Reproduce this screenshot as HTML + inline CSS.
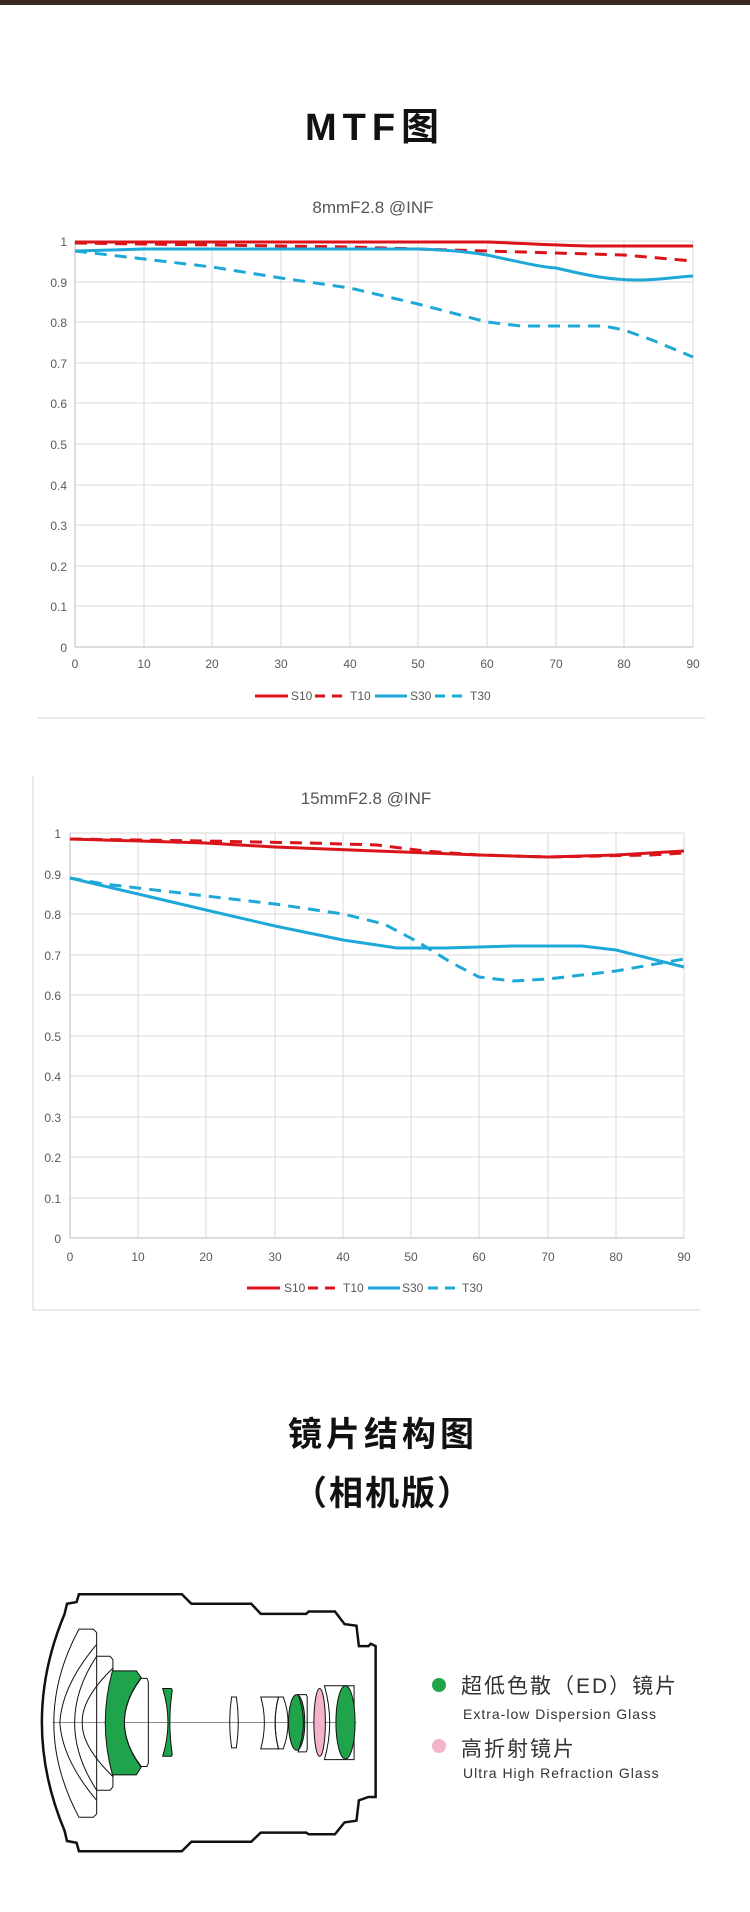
<!DOCTYPE html>
<html><head><meta charset="utf-8"><style>
html,body{margin:0;padding:0;background:#fff;width:750px;height:1912px;overflow:hidden}
svg{display:block}
</style></head><body>
<svg width="750" height="1912" viewBox="0 0 750 1912" xmlns="http://www.w3.org/2000/svg" font-family="Liberation Sans, Noto Sans CJK SC, sans-serif">
<rect x="0" y="0" width="750" height="5" fill="#3a2a22"/>
<text x="375" y="140" text-anchor="middle" font-size="38" font-weight="bold" letter-spacing="6" fill="#111">MTF图</text>

<!-- Chart 1 -->
<text x="373" y="213" text-anchor="middle" font-size="17" fill="#555">8mmF2.8 @INF</text>
<g stroke="#d9d9d9" stroke-width="1">
<line x1="75" x2="693" y1="241" y2="241"/><line x1="75" x2="693" y1="282" y2="282"/><line x1="75" x2="693" y1="322" y2="322"/><line x1="75" x2="693" y1="363" y2="363"/><line x1="75" x2="693" y1="403" y2="403"/><line x1="75" x2="693" y1="444" y2="444"/><line x1="75" x2="693" y1="485" y2="485"/><line x1="75" x2="693" y1="525" y2="525"/><line x1="75" x2="693" y1="566" y2="566"/><line x1="75" x2="693" y1="606" y2="606"/>
<line x1="144" x2="144" y1="241" y2="647"/><line x1="212" x2="212" y1="241" y2="647"/><line x1="281" x2="281" y1="241" y2="647"/><line x1="350" x2="350" y1="241" y2="647"/><line x1="418" x2="418" y1="241" y2="647"/><line x1="487" x2="487" y1="241" y2="647"/><line x1="556" x2="556" y1="241" y2="647"/><line x1="624" x2="624" y1="241" y2="647"/><line x1="693" x2="693" y1="241" y2="647"/>
</g>
<line x1="75" x2="693" y1="647" y2="647" stroke="#bbb"/><line x1="75" x2="75" y1="241" y2="647" stroke="#bbb"/>
<g font-size="12" fill="#595959" text-anchor="end">
<text x="67" y="246">1</text><text x="67" y="287">0.9</text><text x="67" y="327">0.8</text><text x="67" y="368">0.7</text><text x="67" y="408">0.6</text><text x="67" y="449">0.5</text><text x="67" y="490">0.4</text><text x="67" y="530">0.3</text><text x="67" y="571">0.2</text><text x="67" y="611">0.1</text><text x="67" y="652">0</text>
</g>
<g font-size="12" fill="#595959" text-anchor="middle">
<text x="75" y="668">0</text><text x="144" y="668">10</text><text x="212" y="668">20</text><text x="281" y="668">30</text><text x="350" y="668">40</text><text x="418" y="668">50</text><text x="487" y="668">60</text><text x="556" y="668">70</text><text x="624" y="668">80</text><text x="693" y="668">90</text>
</g>
<g fill="none" stroke-width="3" stroke-linejoin="round" stroke-linecap="butt">
<path d="M75,242 L487,242 C520,243 540,245 590,246 L693,246" stroke="#d9141b"/>
<path d="M75,243 L350,247 L487,251 L556,253 L624,255 L693,261" stroke="#d9141b" stroke-dasharray="12,8"/>
<path d="M75,251 L144,249 L418,249 C450,250 470,252 487,255 C520,262 540,267 556,268 C590,276 610,280 638,280 C660,280 675,277 693,276" stroke="#1ea8d8"/>
<path d="M75,251 L144,259 L212,267 L281,278 L350,288 L418,304 L487,322 L521,326 L604,326 L624,330 L652,340 L693,357" stroke="#1ea8d8" stroke-dasharray="12,8"/>
</g>
<g font-size="12" fill="#595959">
<line x1="255" x2="288" y1="696" y2="696" stroke="#d9141b" stroke-width="3"/><text x="291" y="700">S10</text>
<line x1="315" x2="347" y1="696" y2="696" stroke="#d9141b" stroke-width="3" stroke-dasharray="10,7"/><text x="350" y="700">T10</text>
<line x1="375" x2="407" y1="696" y2="696" stroke="#1ea8d8" stroke-width="3"/><text x="410" y="700">S30</text>
<line x1="435" x2="467" y1="696" y2="696" stroke="#1ea8d8" stroke-width="3" stroke-dasharray="10,7"/><text x="470" y="700">T30</text>
</g>
<line x1="38" x2="705" y1="718" y2="718" stroke="#e3e3e3" stroke-width="1.5"/>

<!-- Chart 2 -->
<line x1="33" x2="33" y1="776" y2="1310" stroke="#e3e3e3" stroke-width="1.5"/>
<line x1="33" x2="700" y1="1310" y2="1310" stroke="#e3e3e3" stroke-width="1.5"/>
<text x="366" y="804" text-anchor="middle" font-size="17" fill="#555">15mmF2.8 @INF</text>
<g stroke="#d9d9d9" stroke-width="1">
<line x1="70" x2="684" y1="833" y2="833"/><line x1="70" x2="684" y1="874" y2="874"/><line x1="70" x2="684" y1="914" y2="914"/><line x1="70" x2="684" y1="955" y2="955"/><line x1="70" x2="684" y1="995" y2="995"/><line x1="70" x2="684" y1="1036" y2="1036"/><line x1="70" x2="684" y1="1076" y2="1076"/><line x1="70" x2="684" y1="1117" y2="1117"/><line x1="70" x2="684" y1="1157" y2="1157"/><line x1="70" x2="684" y1="1198" y2="1198"/>
<line x1="138" x2="138" y1="833" y2="1238"/><line x1="206" x2="206" y1="833" y2="1238"/><line x1="275" x2="275" y1="833" y2="1238"/><line x1="343" x2="343" y1="833" y2="1238"/><line x1="411" x2="411" y1="833" y2="1238"/><line x1="479" x2="479" y1="833" y2="1238"/><line x1="548" x2="548" y1="833" y2="1238"/><line x1="616" x2="616" y1="833" y2="1238"/><line x1="684" x2="684" y1="833" y2="1238"/>
</g>
<line x1="70" x2="684" y1="1238" y2="1238" stroke="#bbb"/><line x1="70" x2="70" y1="833" y2="1238" stroke="#bbb"/>
<g font-size="12" fill="#595959" text-anchor="end">
<text x="61" y="838">1</text><text x="61" y="879">0.9</text><text x="61" y="919">0.8</text><text x="61" y="960">0.7</text><text x="61" y="1000">0.6</text><text x="61" y="1041">0.5</text><text x="61" y="1081">0.4</text><text x="61" y="1122">0.3</text><text x="61" y="1162">0.2</text><text x="61" y="1203">0.1</text><text x="61" y="1243">0</text>
</g>
<g font-size="12" fill="#595959" text-anchor="middle">
<text x="70" y="1261">0</text><text x="138" y="1261">10</text><text x="206" y="1261">20</text><text x="275" y="1261">30</text><text x="343" y="1261">40</text><text x="411" y="1261">50</text><text x="479" y="1261">60</text><text x="548" y="1261">70</text><text x="616" y="1261">80</text><text x="684" y="1261">90</text>
</g>
<g fill="none" stroke-width="3" stroke-linejoin="round">
<path d="M70,839 L206,843 L275,847 L377,851 L479,855 L548,857 L616,855 L684,851" stroke="#d9141b"/>
<path d="M70,839 L206,841 L309,843 L377,845 L425,851 L479,855 L548,857 L650,855 L684,853" stroke="#d9141b" stroke-dasharray="12,8"/>
<path d="M70,878 L138,894 L206,910 L275,926 L343,940 L397,948 L445,948 L513,946 L582,946 L616,950 L684,967" stroke="#1ea8d8"/>
<path d="M70,878 L104,884 L138,888 L206,896 L275,904 L343,914 L384,924 L418,942 L452,963 L479,977 L513,981 L548,979 L616,971 L684,959" stroke="#1ea8d8" stroke-dasharray="12,8"/>
</g>
<g font-size="12" fill="#595959">
<line x1="247" x2="280" y1="1288" y2="1288" stroke="#d9141b" stroke-width="3"/><text x="284" y="1292">S10</text>
<line x1="308" x2="340" y1="1288" y2="1288" stroke="#d9141b" stroke-width="3" stroke-dasharray="10,7"/><text x="343" y="1292">T10</text>
<line x1="368" x2="400" y1="1288" y2="1288" stroke="#1ea8d8" stroke-width="3"/><text x="402" y="1292">S30</text>
<line x1="428" x2="460" y1="1288" y2="1288" stroke="#1ea8d8" stroke-width="3" stroke-dasharray="10,7"/><text x="462" y="1292">T30</text>
</g>

<!-- Lens section -->
<text x="383" y="1446" text-anchor="middle" font-size="34" font-weight="bold" fill="#111" letter-spacing="4">镜片结构图</text>
<text x="383" y="1505" text-anchor="middle" font-size="34" font-weight="bold" fill="#111" letter-spacing="2">（相机版）</text>

<g transform="translate(0,1380) scale(0.4785,0.339)" fill="none" stroke="#111">
<path vector-effect="non-scaling-stroke" stroke-width="2.5" d="M135,690 L140,660 L160,655 L165,632 L380,632 L400,660 L525,660 L545,690 L640,690 L645,683 L700,683 L720,720 L745,725 L750,785 L770,785 L775,778 L785,785 L785,1230 L770,1230 L750,1240 L745,1300 L720,1305 L700,1340 L645,1340 L640,1335 L545,1335 L525,1362 L400,1362 L380,1390 L165,1390 L160,1365 L140,1360 L135,1330 Q40,1010 135,690 Z"/>
<line vector-effect="non-scaling-stroke" stroke-width="0.8" stroke="#666" x1="110" x2="745" y1="1010" y2="1010"/>
<g stroke-width="1">
<path vector-effect="non-scaling-stroke" d="M165,735 L195,735 L202,745 L202,1280 L195,1290 L165,1290 Q60,1010 165,735 Z"/>
<path vector-effect="non-scaling-stroke" d="M202,815 L230,815 L236,825 L236,1200 L230,1210 L202,1210 Q110,1010 202,815 Z"/>
<path vector-effect="non-scaling-stroke" d="M202,780 Q130,900 125,1010 Q130,1120 202,1240"/>
<path vector-effect="non-scaling-stroke" d="M236,850 Q170,940 172,1010 Q170,1080 236,1170"/>
<path vector-effect="non-scaling-stroke" fill="#20a44b" d="M235,858 L285,858 L295,878 Q225,1010 295,1142 L285,1165 L235,1165 Q205,1010 235,858 Z"/>
<path vector-effect="non-scaling-stroke" d="M295,880 L307,880 L310,890 L310,1130 L307,1140 L295,1140 Q225,1010 295,880 Z"/>
<path vector-effect="non-scaling-stroke" fill="#20a44b" d="M340,910 L358,910 L360,915 Q350,1010 360,1105 L358,1110 L340,1110 Q362,1010 340,910 Z"/>
<path vector-effect="non-scaling-stroke" d="M484,935 L494,935 Q502,1010 494,1085 L484,1085 Q476,1010 484,935 Z"/>
<path vector-effect="non-scaling-stroke" d="M545,935 L582,935 Q568,1010 582,1088 L545,1088 Q560,1010 545,935 Z"/>
<path vector-effect="non-scaling-stroke" d="M582,935 L592,935 Q612,1010 592,1088 L582,1088 Q568,1010 582,935 Z"/>
<ellipse vector-effect="non-scaling-stroke" fill="#20a44b" cx="620" cy="1010" rx="17" ry="82"/>
<path vector-effect="non-scaling-stroke" d="M623,928 L640,928 L642,935 L642,1090 L640,1097 L623,1097 Q645,1010 623,928 Z"/>
<ellipse vector-effect="non-scaling-stroke" fill="#f3b4cb" cx="668" cy="1010" rx="12" ry="100"/>
<path vector-effect="non-scaling-stroke" d="M678,902 L740,902 L740,1120 L678,1120 Q700,1010 678,902 Z"/>
<ellipse vector-effect="non-scaling-stroke" fill="#20a44b" cx="722" cy="1010" rx="20" ry="108"/>
</g>
</g>

<circle cx="439" cy="1685" r="7" fill="#20a44b"/>
<text x="461" y="1693" font-size="21" fill="#333" letter-spacing="2">超低色散（ED）镜片</text>
<text x="463" y="1719" font-size="14" fill="#333" letter-spacing="1">Extra-low Dispersion Glass</text>
<circle cx="439" cy="1746" r="7" fill="#f3b4cb"/>
<text x="461" y="1756" font-size="21" fill="#333" letter-spacing="2">高折射镜片</text>
<text x="463" y="1778" font-size="14" fill="#333" letter-spacing="1">Ultra High Refraction Glass</text>
</svg>
</body></html>
